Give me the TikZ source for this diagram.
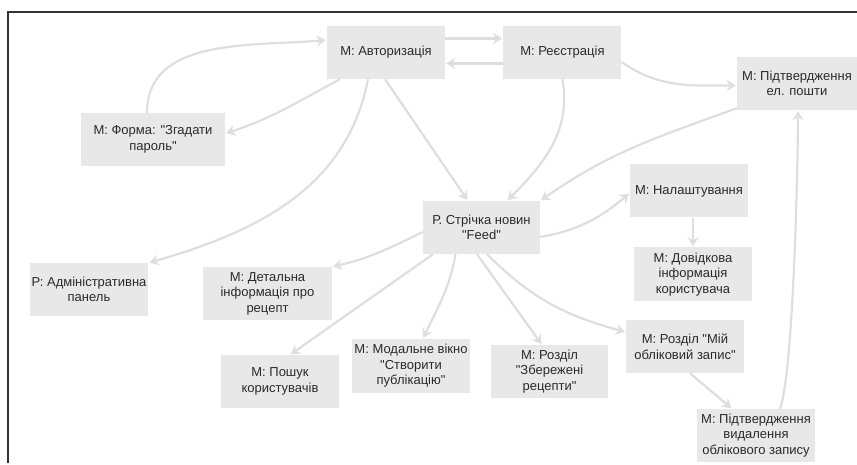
\documentclass[tikz,border=0pt]{standalone}
\usepackage{fontspec}
\setmainfont{Liberation Sans}[Ligatures=TeXOff]
\usepackage{tikz}
\usetikzlibrary{arrows.meta}
\usetikzlibrary{positioning}

\definecolor{boxgray}{HTML}{E8E8E8}
\definecolor{linegray}{HTML}{DEDEDE}
\definecolor{textgray}{HTML}{2A2A2A}

\begin{document}
\begin{tikzpicture}[x=1pt,y=1pt,->,>={Stealth[length=9pt,width=11pt,inset=3pt]},shorten >=1pt,
    every edge/.style={draw=linegray,line width=2.2pt},
    main node/.style={rectangle,fill=boxgray,text=textgray,align=center,inner sep=2pt,
        minimum width=118pt,minimum height=53pt,font=\fontsize{13}{15.5}\selectfont}]

            \useasboundingbox (0,0) rectangle (857,464);
            \draw[-,black!80,line width=1.4pt] (857,452) -- (8,452) -- (8,0);

            \node[main node] (0) at (386,411.5)          {М: Авторизація};
            \node[main node] (1) [right=58pt of 0]        {М: Реєстрація};
            \node[main node,minimum width=120pt] (2) at (797,380.5) {М: Підтвердження\\ел. пошти};
            \node[main node,minimum width=144pt] (3) at (153,324.5) {М: Форма: "Згадати\\пароль"};
            \node[main node,minimum width=117pt] (4) at (481.5,236.5) {Р. Стрічка новин\\"Feed"};
            \node[main node] (5) at (689,273)            {М: Налаштування};
            \node[main node,minimum height=54pt] (6) [below=29.5pt of 5,xshift=4pt] {М: Довідкова\\інформація\\користувача};
            \node[main node] (7) at (89,174.5)           {Р: Адміністративна\\панель};
            \node[main node,minimum width=129pt] (8) at (267.5,170.5) {М: Детальна\\інформація про\\рецепт};
            \node[main node] (9) at (280,82.5)           {М: Пошук\\користувачів};
            \node[main node,minimum height=54pt] (10) at (411,98) {М: Модальне вікно\\"Створити\\публікацію"};
            \node[main node,minimum width=117pt] (11) at (549.5,92.5) {М: Розділ\\"Збережені\\рецепти"};
            \node[main node] (12) at (685,117.5)         {М: Розділ "Мій\\обліковий запис"};
            \node[main node] (13) at (756,28.5)          {М: Підтвердження\\видалення\\облікового запису};

              \path
                ([yshift=14pt]0.east)   edge                          ([yshift=14pt]1.west)
                ([xshift=-46pt]0.south) edge [out=208,in=18]          ([yshift=6pt]3.east)
                ([xshift=-18pt]0.south) edge [out=-101,in=16]         (7.north east)
                ([xshift=-1pt]0.south)  edge                          ([xshift=-13.5pt]4.north)
                ([yshift=-11pt]1.west)  edge                          ([yshift=-11pt]0.east)
                (1.south)               edge [out=-80,in=45]          ([xshift=25.5pt]4.north)
                ([yshift=-9.5pt]1.east) edge [out=-35,in=180]         ([yshift=-2pt]2.west)
                ([yshift=2pt]2.south west) edge [out=200,in=35]       (4.north east)
                ([xshift=-6pt]3.north)  edge [out=90,in=185]          ([yshift=12.5pt]0.west)
                ([yshift=-9.5pt]4.east) edge [out=10,in=220]          ([yshift=-2pt]5.west)
                ([yshift=-4.5pt]4.west) edge [out=206,in=13]          (8.north east)
                ([xshift=-48.5pt]4.south) edge                        ([xshift=10pt]9.north)
                ([xshift=-26pt]4.south) edge [out=-100,in=65]         ([xshift=12pt]10.north)
                ([xshift=-4.5pt]4.south) edge                         ([xshift=-7.5pt]11.north)
                ([xshift=5.5pt]4.south) edge [out=-45,in=165]         ([yshift=14.5pt]12.west)
                ([xshift=4pt]5.south)   edge                          (6.north)
                ([xshift=5pt]12.south)  edge                          ([xshift=-24pt]13.north)
                ([xshift=24pt]13.north) edge [out=70,in=-90,looseness=0.35] ([xshift=1pt]2.south);
            \end{tikzpicture}
\end{document}
